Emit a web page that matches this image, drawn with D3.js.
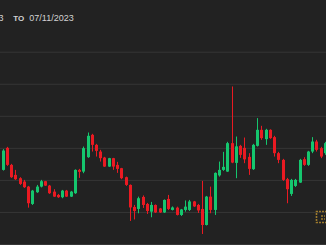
<!DOCTYPE html>
<html>

<head>
  <script src="https://d3js.org/d3.v7.min.js"></script>
  <style>
    body { margin: 0; background: #222222; }
    svg { display: block; }
  </style>
</head>

<body>
  <svg id="candles" width="326" height="245"></svg>
  <script>
    // date range shown in the header
    const startLabel = "04/26/2023"
    const endLabel = "07/11/2023"

    // OHLC values (one entry per candle, left to right)
    const opens = [130, 152, 135, 125, 121.7, 118.3, 113.3, 96, 107.7, 113.3, 118.7, 114.3, 108.3, 105, 102.7, 109.3, 103.3, 106.7, 130, 128.3,
      142.7, 165, 155, 148.3, 142.3, 133.3, 141.7, 135, 131.7, 122.7, 115, 93, 91, 103, 96, 88.3, 95, 91.5, 87.5, 101,
      90, 92.3, 85, 90, 90, 98.5, 95, 91, 75, 103.3, 90, 124.5, 130, 128.3, 156.7, 137, 154, 152, 143, 130.7,
      154, 170, 160.7, 170, 162.7, 146.7, 140, 120.7, 106, 114, 117.3, 140.7, 135, 148.3, 158.3, 151.7, 146.7]
    const highs = [150.7, 153, 136, 130, 122.7, 120, 114, 110, 115, 120, 119, 115, 110.7, 106, 110, 110, 109, 130.5, 131, 153.3,
      167.3, 166, 156, 150, 143, 142, 142, 138, 132, 123.3, 115.5, 95, 103.3, 104.5, 97, 98, 95.5, 92, 100.5, 105,
      93.5, 93.3, 91, 99.5, 100, 99, 96, 119, 104, 113.3, 127.5, 138.3, 148, 158, 213.3, 163.3, 155, 162.3, 146.7, 156,
      181.7, 174, 171, 170.5, 164, 148, 141, 122, 121, 121, 141, 142.7, 149, 162.7, 160, 153, 158]
    const lows = [129.3, 134, 122, 120, 115, 112, 92.3, 95, 107, 112.5, 114, 106, 103, 102, 101.7, 103, 103, 106, 122, 126.7,
      142, 148.3, 143.3, 138.3, 133, 133, 130, 127, 120.7, 114, 79, 80.5, 86.7, 92, 86, 82.7, 87, 87, 87, 90,
      89.5, 84.5, 84, 88.3, 89, 93, 87, 66, 74.5, 86.7, 85, 123.3, 129, 128, 136.7, 121.7, 142, 136.7, 125, 130,
      153.3, 160, 155, 161, 143.3, 136.7, 119, 96.7, 104, 113, 117, 134, 134, 146.7, 148.3, 141.7, 145]
    const closes = [149.3, 135, 122.7, 120.7, 116, 112.7, 96.7, 109.3, 113.3, 118.7, 114.3, 106.7, 103.3, 102.7, 109.3, 103.3, 108.3, 130, 128, 151.7,
      164, 155, 149, 141.7, 133.3, 141.7, 133.3, 131, 121.7, 115, 92.5, 89, 101.7, 95, 89, 95, 87.5, 87.5, 100, 91,
      92.5, 85, 90.5, 93.3, 98.5, 93.5, 89.5, 75, 103.3, 90, 127, 130, 133, 156.7, 137.3, 153.5, 145, 140.5, 131, 155,
      170, 161.7, 170, 161.7, 146.7, 140, 120, 110.7, 120, 120, 140, 135, 148.3, 158.3, 150, 143.3, 156.7]

    // price gridlines
    const priceTicks = [56, 88, 120, 152, 184, 216, 248]

    const green = "#15c66e"
    const red = "#ea1a22"

    let svg = d3.select('svg#candles');
    const width = +svg.attr('width');

    // one daily candle per day ending on the end date
    const parse = d3.timeParse("%m/%d/%Y")
    const lastDay = parse(endLabel)
    const days = d3.range(opens.length).map(i => d3.timeDay.offset(lastDay, i - opens.length + 1))
    const data = days.map((d, i) => ({ date: d, open: opens[i], high: highs[i], low: lows[i], close: closes[i] }))

    const step = 4.24
    const xStart = 2.7 - step / 2
    const xScale = d3.scaleBand()
      .domain(days)
      .range([xStart, xStart + step * days.length])
      .paddingInner(0.3)
      .paddingOuter(0.15);
    const yScale = d3.scaleLinear().domain([56, 248]).range([244, 51.7]);

    // gridlines
    let grid = d3.axisLeft(yScale).tickValues(priceTicks).tickSize(-width).tickFormat("");
    let gridG = svg.append('g')
      .attr('transform', `translate(0,0)`)
      .call(grid);
    gridG.select('.domain').remove();
    gridG.selectAll('line').attr('stroke', '#363636').attr('stroke-width', 1);

    // header
    let header = svg.append('g').style('font-family', 'Liberation Sans, Arial, sans-serif').attr('fill', '#d2d2d2')
    header.append('text').attr('x', 3.6).attr('y', 20.5).attr('text-anchor', 'end')
      .style('font-size', '9px').text(startLabel)
    header.append('text').attr('x', 13.3).attr('y', 20.5)
      .style('font-size', '8px').style('font-weight', 'bold').text("TO")
    header.append('text').attr('x', 29.3).attr('y', 20.5)
      .style('font-size', '9px').text(endLabel)

    // candles
    let chartArea = svg.append('g');
    let candle = chartArea.selectAll('g.candle').data(data)
      .join('g')
      .attr('class', 'candle')
      .attr('fill', d => d.close >= d.open ? green : red)
      .attr('stroke', d => d.close >= d.open ? green : red);
    candle.append('line')
      .attr('x1', d => Math.round(xScale(d.date) + xScale.bandwidth() / 2) + 0.5)
      .attr('x2', d => Math.round(xScale(d.date) + xScale.bandwidth() / 2) + 0.5)
      .attr('y1', d => yScale(d.high))
      .attr('y2', d => yScale(d.low))
      .attr('stroke-width', 1);
    candle.append('rect')
      .attr('x', d => Math.round(xScale(d.date) + xScale.bandwidth() / 2) - 1)
      .attr('width', 3)
      .attr('y', d => yScale(Math.max(d.open, d.close)))
      .attr('height', d => Math.max(1, Math.abs(yScale(d.open) - yScale(d.close))))
      .attr('stroke', 'none');

    // watermark logo corner
    let logo = svg.append('g').attr('stroke', '#9c7a2c').attr('fill', 'none').attr('stroke-width', 1.6)
      .attr('stroke-dasharray', '2 1')
    logo.append('path').attr('d', 'M327,211.5 H316.5 V222.5 H327')
    logo.append('path').attr('d', 'M321,216 H325 M321,219 H325')
  </script>
</body>

</html>
